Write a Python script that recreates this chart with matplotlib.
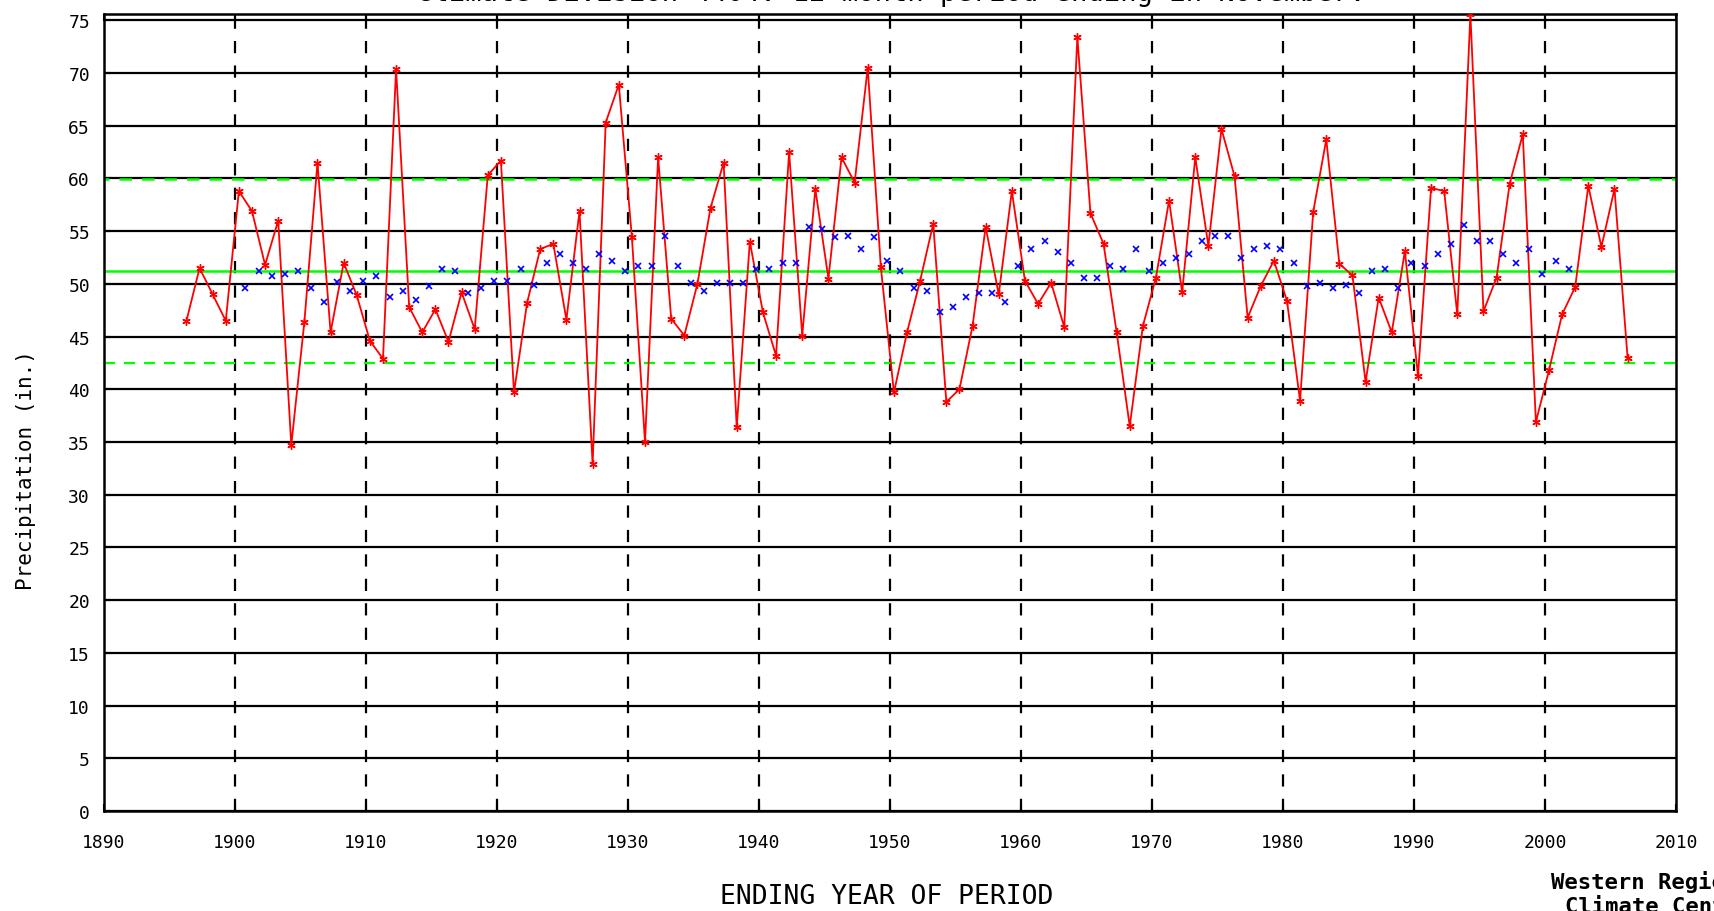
import matplotlib
matplotlib.use("Agg")
import matplotlib.pyplot as plt
import numpy as np

plt.rcParams['font.family'] = ['DejaVu Sans Mono']

# yearly precipitation, 12 months ending in November (red)
years = list(range(1896, 2007))
precip = [
    46.5, 51.5, 49.0, 46.5,
    58.8, 56.9, 51.8, 56.0, 34.7, 46.4, 61.5, 45.4, 52.0, 48.9,
    44.6, 42.9, 70.4, 47.8, 45.4, 47.6, 44.5, 49.2, 45.7, 60.3,
    61.7, 39.7, 48.2, 53.3, 53.8, 46.6, 56.9, 32.9, 65.3, 68.9,
    54.4, 35.0, 62.0, 46.7, 45.1, 50.0, 57.2, 61.5, 36.4, 54.0,
    47.3, 43.2, 62.5, 45.1, 59.0, 50.5, 62.0, 59.6, 70.5, 51.6,
    39.7, 45.4, 50.3, 55.7, 38.8, 40.0, 46.0, 55.4, 49.0, 58.8,
    50.3, 48.1, 50.1, 45.9, 73.4, 56.7, 53.8, 45.4, 36.5, 46.0,
    50.6, 57.9, 49.2, 62.0, 53.6, 64.7, 60.2, 46.8, 49.8, 52.2,
    48.4, 38.9, 56.8, 63.7, 51.9, 50.8, 40.7, 48.7, 45.4, 53.1,
    41.3, 59.1, 58.8, 47.1, 75.6, 47.4, 50.6, 59.5, 64.2, 36.9,
    41.8, 47.1, 49.7, 59.3, 53.5, 59.0, 43.0,
]

# 10-year running mean, plotted at the middle of each window (blue)
mean_centers = list(np.arange(1900.5, 2002.5, 1.0))
running_mean = [
    49.6, 51.2, 50.7, 50.9, 51.2, 49.6, 48.3, 50.2, 49.3, 50.3,
    50.7, 48.8, 49.3, 48.5, 49.8, 51.4, 51.2, 49.1, 49.6, 50.3,
    50.3, 51.4, 49.9, 52.0, 52.8, 52.0, 51.4, 52.8, 52.2, 51.2,
    51.7, 51.7, 54.5, 51.7, 50.1, 49.3, 50.1, 50.1, 50.1, 51.4,
    51.4, 52.0, 52.0, 55.4, 55.2, 54.4, 54.5, 53.3, 54.4, 52.2,
    51.2, 49.6, 49.3, 47.3, 47.8, 48.8, 49.1, 49.1, 48.3, 51.7,
    53.3, 54.1, 53.0, 52.0, 50.6, 50.6, 51.7, 51.4, 53.3, 51.2,
    52.0, 52.5, 52.8, 54.1, 54.5, 54.5, 52.5, 53.3, 53.6, 53.3,
    52.0, 49.8, 50.1, 49.6, 49.9, 49.1, 51.2, 51.4, 49.6, 52.0,
    51.7, 52.8, 53.8, 55.6, 54.1, 54.1, 52.8, 52.0, 53.3, 50.9,
    52.2, 51.4,
]

period_mean = 51.2
period_std = 8.7

x_ticks = list(range(1890, 2011, 10))
y_ticks = list(range(0, 76, 5))

# marks sit a little past the year line in the original
shift = 0.3

fig = plt.figure(figsize=(17.15, 9.12), dpi=100)
ax = fig.add_axes([0.0606, 0.1096, 0.9167, 0.874])

for y in y_ticks:
    ax.axhline(y, color='black', lw=1.6, zorder=1)
for x in x_ticks[1:-1]:
    ax.axvline(x, color='black', lw=1.6, ls=(0, (5.5, 5.5)), zorder=1)

ax.axhline(period_mean, color='#00ff00', lw=1.8, zorder=2)
ax.axhline(period_mean + period_std, color='#00ff00', lw=1.8,
           ls=(3, (5, 4)), zorder=2)
ax.axhline(period_mean - period_std, color='#00ff00', lw=1.6,
           ls=(0, (5, 4)), zorder=2)

ax.plot(np.array(years) + shift, precip, color='red', lw=1.3,
        marker=(6, 2, 0), ms=6, mew=1.0, zorder=3)
ax.plot(np.array(mean_centers) + shift, running_mean, ls='none',
        color='blue', marker='x', ms=4.5, mew=1.2, zorder=4)

ax.set_xlim(1890, 2010)
ax.set_ylim(0, 75.6)
ax.set_xticks(x_ticks)
ax.set_yticks(y_ticks)
ax.tick_params(axis='both', direction='in', length=5, width=1.5,
               labelsize=13)
ax.tick_params(axis='x', top=True, pad=16)
ax.tick_params(axis='y', pad=10)
for s in ax.spines.values():
    s.set_linewidth(1.8)

fig.text(0.0150, 0.485, 'Precipitation (in.)', rotation=90,
         ha='center', va='center', fontsize=15)
fig.text(0.517, 0.0164, 'ENDING YEAR OF PERIOD', ha='center',
         va='center', fontsize=19)
fig.text(0.5195, 0.9985,
         'Climate Division 4404: 12 month period ending in November.',
         ha='center', va='baseline', fontsize=19.5)
fig.text(0.967, 0.045, 'Western Regional\nClimate Center', ha='center',
         va='top', fontsize=16, fontweight='bold', linespacing=1.25)

fig.savefig('out.png', dpi=100)
